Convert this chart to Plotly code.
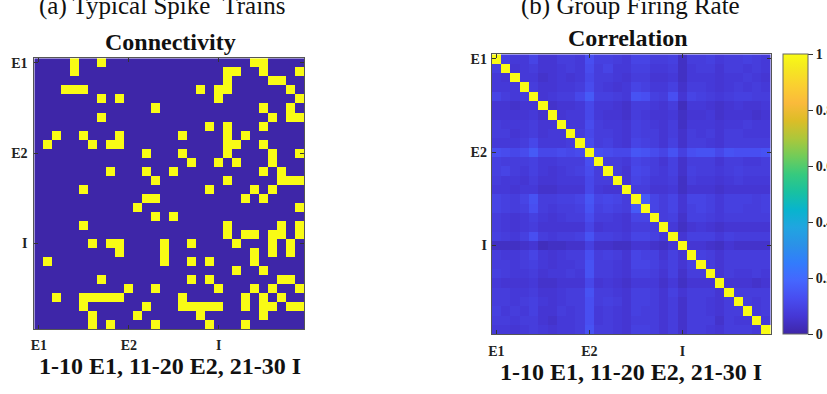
import plotly.graph_objects as go

N = 30
tick_vals = [1, 11, 21]
tick_text = ["E1", "E2", "I"]
axis_caption = "1-10 E1, 11-20 E2, 21-30 I"
panel_titles = ["(a) Typical Spike  Trains", "(b) Group Firing Rate"]
map_titles = ["Connectivity", "Correlation"]

# Connectivity: for every neuron (row, 0-based) the columns that are connected
conn_targets = [
    [4, 7, 24, 25],
    [4, 21, 22, 25, 29],
    [21, 26, 27],
    [3, 4, 5, 18, 20, 21, 28],
    [7, 9, 20, 29],
    [13, 25, 28],
    [7, 26, 28, 29],
    [19, 21, 25],
    [2, 5, 9, 16, 21, 23],
    [1, 6, 8, 9, 21, 22, 25],
    [12, 16, 21, 26, 29],
    [17, 20, 22, 26],
    [8, 12, 15, 25, 27],
    [13, 21, 27, 28, 29],
    [5, 19, 24, 26],
    [12, 13, 23, 25],
    [11, 29],
    [13, 15],
    [5, 21, 27, 29],
    [21, 23, 24, 26, 27, 29],
    [6, 8, 9, 14, 17, 22, 26, 28],
    [9, 14, 24, 26, 28],
    [1, 14, 17, 19, 24],
    [22, 25],
    [7, 17, 19, 27, 28],
    [10, 13, 20, 24, 26, 29],
    [2, 5, 6, 7, 8, 9, 16, 23, 25, 27],
    [5, 12, 16, 17, 18, 19, 20, 23, 25, 26, 28, 29],
    [6, 11, 18, 25],
    [6, 8, 13, 19, 23],
]

# Group firing-rate correlation (percent), upper triangle: row i holds j = i+1 .. 29
corr_upper_pct = [
    [9, 7, 7, 10, 6, 6, 8, 8, 7, 13, 9, 9, 8, 7, 10, 10, 8, 8, 9, 4, 8, 8, 9, 7, 8, 8, 9, 8, 7],
    [6, 7, 8, 6, 6, 7, 8, 7, 12, 8, 10, 7, 7, 9, 9, 7, 7, 8, 4, 7, 8, 8, 6, 8, 8, 7, 8, 7],
    [7, 7, 5, 6, 7, 6, 7, 11, 8, 8, 7, 6, 8, 8, 6, 6, 7, 4, 7, 7, 7, 6, 7, 7, 8, 7, 6],
    [8, 6, 6, 7, 7, 8, 12, 8, 7, 6, 7, 10, 9, 7, 7, 9, 5, 8, 8, 7, 6, 7, 8, 7, 8, 7],
    [6, 7, 8, 8, 11, 16, 9, 9, 8, 7, 14, 13, 9, 8, 13, 6, 10, 9, 8, 7, 8, 9, 9, 8, 8],
    [5, 6, 6, 7, 11, 7, 7, 6, 5, 8, 8, 7, 6, 8, 3, 7, 7, 6, 5, 6, 7, 6, 6, 7],
    [6, 7, 7, 11, 7, 6, 6, 5, 8, 7, 6, 6, 7, 4, 6, 6, 7, 5, 6, 6, 6, 5, 6],
    [7, 7, 12, 8, 7, 7, 6, 9, 8, 7, 6, 8, 4, 7, 7, 7, 6, 7, 7, 8, 7, 7],
    [8, 11, 8, 8, 7, 6, 9, 8, 8, 6, 8, 5, 8, 7, 8, 6, 8, 8, 7, 7, 7],
    [12, 8, 9, 7, 6, 10, 9, 8, 6, 9, 5, 8, 8, 7, 6, 8, 8, 8, 8, 8],
    [13, 12, 11, 11, 15, 14, 12, 10, 14, 9, 13, 14, 14, 11, 14, 13, 13, 13, 14],
    [8, 8, 7, 10, 9, 8, 6, 9, 5, 8, 8, 8, 6, 8, 8, 7, 7, 8],
    [8, 6, 11, 10, 8, 7, 9, 5, 9, 8, 8, 7, 8, 9, 8, 8, 8],
    [6, 10, 9, 7, 7, 8, 4, 8, 7, 7, 6, 7, 8, 7, 7, 7],
    [8, 8, 6, 6, 7, 4, 6, 6, 6, 5, 6, 6, 6, 6, 6],
    [16, 10, 8, 10, 6, 10, 10, 9, 7, 9, 9, 9, 8, 9],
    [10, 8, 10, 6, 9, 10, 9, 7, 9, 9, 8, 8, 9],
    [8, 9, 5, 9, 9, 8, 7, 8, 8, 8, 8, 8],
    [7, 4, 6, 7, 6, 5, 6, 6, 6, 6, 6],
    [6, 9, 9, 9, 7, 9, 8, 8, 8, 8],
    [6, 6, 5, 4, 6, 5, 5, 5, 5],
    [9, 8, 6, 8, 8, 8, 8, 8],
    [8, 6, 8, 8, 8, 8, 8],
    [6, 8, 7, 7, 8, 7],
    [6, 6, 6, 5, 6],
    [8, 8, 8, 8],
    [8, 7, 8],
    [7, 8],
    [7],
]

cbar_vals = [0, 0.2, 0.4, 0.6, 0.8, 1]
cbar_text = ["0", "0.2", "0.4", "0.6", "0.8", "1"]

# MATLAB parula colormap (sampled)
parula = [
    [0.0, "rgb(62,38,168)"],
    [0.0635, "rgb(69,55,213)"],
    [0.127, "rgb(72,77,240)"],
    [0.190, "rgb(69,102,254)"],
    [0.254, "rgb(50,124,252)"],
    [0.317, "rgb(43,145,232)"],
    [0.381, "rgb(32,165,224)"],
    [0.444, "rgb(8,180,205)"],
    [0.508, "rgb(25,193,160)"],
    [0.571, "rgb(55,202,126)"],
    [0.635, "rgb(114,204,89)"],
    [0.698, "rgb(172,199,59)"],
    [0.762, "rgb(220,189,39)"],
    [0.825, "rgb(250,186,59)"],
    [0.889, "rgb(250,208,48)"],
    [0.952, "rgb(245,233,32)"],
    [1.0, "rgb(249,251,21)"],
]

idx = list(range(1, N + 1))

conn = [[0] * N for _ in range(N)]
for i, targets in enumerate(conn_targets):
    for j in targets:
        conn[i][j] = 1

corr = [[0.0] * N for _ in range(N)]
for i in range(N):
    corr[i][i] = 1.0
for i, row in enumerate(corr_upper_pct):
    for k, v in enumerate(row):
        j = i + 1 + k
        corr[i][j] = corr[j][i] = v / 100.0

W, H = 827, 394
SERIF = "Times New Roman, Liberation Serif, serif"

fig = go.Figure()
fig.add_trace(go.Heatmap(
    z=conn, x=idx, y=idx, xaxis="x", yaxis="y",
    colorscale=[[0, "rgb(62,38,168)"], [1, "rgb(249,251,21)"]],
    zmin=0, zmax=1, showscale=False,
))
fig.add_trace(go.Heatmap(
    z=corr, x=idx, y=idx, xaxis="x2", yaxis="y2",
    colorscale=parula, zmin=0, zmax=1,
    colorbar=dict(
        x=783 / W, xanchor="left", xpad=0, ypad=0,
        y=1 - 194 / H, yanchor="middle",
        thickness=25, thicknessmode="pixels",
        len=280, lenmode="pixels",
        outlinewidth=1, outlinecolor="#666",
        ticks="outside", ticklen=5, tickcolor="#333",
        tickvals=cbar_vals, ticktext=cbar_text,
        tickfont=dict(family=SERIF, size=14, color="#222", weight="bold"),
    ),
))

def axis(domain, anchor, reverse=False, standoff=5):
    d = dict(
        domain=domain, anchor=anchor,
        range=[N + 0.5, 0.5] if reverse else [0.5, N + 0.5],
        tickvals=tick_vals, ticktext=tick_text,
        ticks="inside", ticklen=4, tickcolor="#333",
        showline=True, linecolor="#555", linewidth=1, mirror="ticks",
        showgrid=False, zeroline=False,
        tickfont=dict(family=SERIF, size=14, color="#222", weight="bold"),
        ticklabelstandoff=standoff,
    )
    return d

fig.update_layout(
    width=W, height=H,
    margin=dict(l=0, r=0, t=0, b=0, autoexpand=False),
    paper_bgcolor="white", plot_bgcolor="white",
    font=dict(family=SERIF),
    xaxis=axis([34.3 / W, 304.3 / W], "y", standoff=3),
    yaxis=axis([1 - 329.3 / H, 1 - 58.3 / H], "x", reverse=True, standoff=3),
    xaxis2=axis([491.7 / W, 770.7 / W], "y2", standoff=4),
    yaxis2=axis([1 - 334 / H, 1 - 54.3 / H], "x2", reverse=True, standoff=1),
    showlegend=False,
)

def note(text, px, py, size, bold):
    fig.add_annotation(
        text=text, x=px / W, y=1 - py / H, xref="paper", yref="paper",
        xanchor="center", yanchor="middle", showarrow=False,
        font=dict(family=SERIF, size=size, color="#111",
                  weight="bold" if bold else "normal"),
    )

note(panel_titles[0], 162, 6, 25, False)
note(panel_titles[1], 630, 6, 25, False)
note(map_titles[0], 170, 42, 24, True)
note(map_titles[1], 628, 38, 24, True)
note(axis_caption, 170, 366, 24, True)
note(axis_caption, 631, 372, 24, True)

fig.write_html("out.html")
